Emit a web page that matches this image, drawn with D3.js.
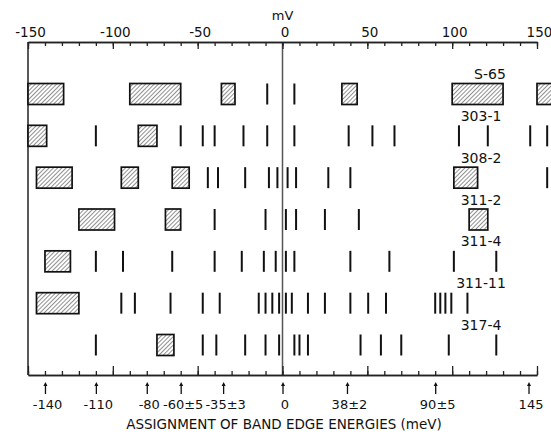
<!DOCTYPE html>
<html>
<head>
<meta charset="utf-8">
<script src="https://cdn.jsdelivr.net/npm/d3@7"></script>
<style>
  html, body { margin: 0; padding: 0; background: #fff; }
  svg { display: block; }
  text { font-family: "DejaVu Sans", sans-serif; fill: #111; }
</style>
</head>
<body>
<svg id="chart" width="551" height="436"></svg>
<script>
// ---- data (mV) ----
const samples = ["S-65", "303-1", "308-2", "311-2", "311-4", "311-11", "317-4"];

const boxesS65   = [[-150, -129], [-90, -60], [-36, -28], [35, 44], [100, 130], [150, 162]];
const linesS65   = [-9, 7];
const boxes3031  = [[-150, -139], [-85, -74]];
const lines3031  = [-110, -60, -47, -40, -23, -9, 7, 39, 53, 66, 104, 121, 146, 156];
const boxes3082  = [[-145, -124], [-95, -85], [-65, -55], [101, 115]];
const lines3082  = [-44, -38, -22, -8, -3, 3, 8, 27, 40, 156];
const boxes3112  = [[-120, -99], [-69, -60], [110, 121]];
const lines3112  = [-40, -10, 2, 8, 25, 45];
const boxes3114  = [[-140, -125]];
const lines3114  = [-110, -94, -65, -40, -24, -11, -4, 2, 7, 40, 63, 101, 126];
const boxes31111 = [[-145, -120]];
const lines31111 = [-95, -87, -66, -47, -37, -14, -10, -6, -2, 2, 5.5, 15, 25, 40, 50.5, 61, 90, 93, 96, 99.5, 109];
const boxes3174  = [[-74, -64]];
const lines3174  = [-110, -47, -39, -22, -10, -2, 7, 10, 15, 46, 58, 70, 98, 126];

const rowBoxes = [boxesS65, boxes3031, boxes3082, boxes3112, boxes3114, boxes31111, boxes3174];
const rowLines = [linesS65, lines3031, lines3082, lines3112, lines3114, lines31111, lines3174];

const topTickValues = [-150, -100, -50, 0, 50, 100, 150];
const assignValues  = [-140, -110, -80, -60, -35, 0, 38, 90, 145];
const assignLabels  = ["-140", "-110", "-80", "-60±5", "-35±3", "0", "38±2", "90±5", "145"];
const axisTitle = "mV";
const bottomTitle = "ASSIGNMENT OF BAND EDGE ENERGIES (meV)";

// ---- layout ----
const svg = d3.select("#chart");
const x = d3.scaleLinear().domain([-150, 150]).range([28, 537]);
const y = d3.scalePoint().domain(samples).range([94, 345]);
const topY = 42, botY = 375, markH = 21;

// hatch pattern
const defs = svg.append("defs");
const pat = defs.append("pattern")
  .attr("id", "hatch").attr("patternUnits", "userSpaceOnUse")
  .attr("width", 3).attr("height", 3)
  .attr("patternTransform", "rotate(45)");
pat.append("rect").attr("width", 3).attr("height", 3).attr("fill", "#fff");
pat.append("line").attr("x1", 0).attr("y1", 0).attr("x2", 0).attr("y2", 3)
  .attr("stroke", "#222").attr("stroke-width", 1);

defs.append("marker").attr("id", "arrow")
  .attr("viewBox", "0 0 6 6").attr("refX", 3).attr("refY", 3)
  .attr("markerWidth", 4).attr("markerHeight", 5)
  .attr("markerUnits", "userSpaceOnUse")
  .attr("orient", "auto")
  .append("path").attr("d", "M0,0 L6,3 L0,6 Z").attr("fill", "#111");

// ---- frame lines ----
svg.append("line").attr("x1", x(-150)).attr("x2", x(-150))
  .attr("y1", topY).attr("y2", botY).attr("stroke", "#222").attr("stroke-width", 1.5);
svg.append("line").attr("x1", x(0)).attr("x2", x(0))
  .attr("y1", topY).attr("y2", botY).attr("stroke", "#555").attr("stroke-width", 1.5);

// ---- top axis ----
const gTop = svg.append("g").attr("transform", `translate(0,${topY})`);
gTop.append("g").call(d3.axisTop(x).tickValues(d3.range(-150, 151, 10))
  .tickSizeInner(-4).tickSizeOuter(0).tickFormat(""));
gTop.append("g").call(d3.axisTop(x).tickValues(topTickValues)
  .tickSizeInner(-7).tickSizeOuter(0).tickPadding(5).tickFormat(d => String(d)));
gTop.selectAll("path.domain").attr("stroke", "#222").attr("stroke-width", 1.5);
gTop.selectAll(".tick line").attr("stroke", "#222").attr("stroke-width", 1.3);
gTop.selectAll(".tick text").style("font-family", "DejaVu Sans").style("font-size", "13.5px")
  .attr("fill", "#111").attr("dx", 2);

svg.append("text").attr("x", x(0)).attr("y", 20).attr("text-anchor", "middle")
  .style("font-size", "13px").text(axisTitle);

// ---- bottom axis ----
const gBot = svg.append("g").attr("transform", `translate(0,${botY})`);
gBot.append("g").call(d3.axisBottom(x).tickValues(d3.range(-150, 151, 10))
  .tickSizeInner(-4).tickSizeOuter(0).tickFormat(""));
gBot.append("g").call(d3.axisBottom(x).tickValues(topTickValues)
  .tickSizeInner(-9).tickSizeOuter(0).tickFormat(""));
gBot.selectAll("path.domain").attr("stroke", "#222").attr("stroke-width", 1.5);
gBot.selectAll(".tick line").attr("stroke", "#222").attr("stroke-width", 1.3);

// arrows
const gArr = svg.append("g").attr("transform", `translate(0,394)`);
gArr.call(d3.axisTop(x).tickValues(assignValues).tickSizeInner(10).tickSizeOuter(0).tickFormat(""));
gArr.select("path.domain").remove();
gArr.selectAll(".tick line").attr("stroke", "#111").attr("stroke-width", 1.3)
  .attr("marker-end", "url(#arrow)");

// assignment labels
const gLab = svg.append("g").attr("transform", `translate(0,${botY})`);
gLab.call(d3.axisBottom(x).tickValues(assignValues).tickSize(0).tickPadding(25)
  .tickFormat((d, i) => assignLabels[i]));
gLab.select("path.domain").remove();
gLab.selectAll(".tick text").style("font-family", "DejaVu Sans").style("font-size", "13px")
  .attr("fill", "#111").attr("dx", 2);

svg.append("text").attr("x", 284).attr("y", 429).attr("text-anchor", "middle")
  .style("font-size", "13.5px").text(bottomTitle);

// ---- rows ----
samples.forEach((s, i) => {
  const cy = y(s);
  const g = svg.append("g");
  g.selectAll("line.mark").data(rowLines[i]).join("line")
    .attr("class", "mark")
    .attr("x1", d => x(d)).attr("x2", d => x(d))
    .attr("y1", cy - markH / 2).attr("y2", cy + markH / 2)
    .attr("stroke", "#111").attr("stroke-width", 2);
  g.selectAll("rect").data(rowBoxes[i]).join("rect")
    .attr("x", d => x(d[0])).attr("width", d => x(d[1]) - x(d[0]))
    .attr("y", cy - markH / 2).attr("height", markH)
    .attr("fill", "url(#hatch)").attr("stroke", "#111").attr("stroke-width", 1.7);
  svg.append("text")
    .attr("x", i === 0 ? 490 : 481).attr("y", cy - 15)
    .attr("text-anchor", "middle").style("font-size", "14px").text(s);
});
</script>
</body>
</html>
